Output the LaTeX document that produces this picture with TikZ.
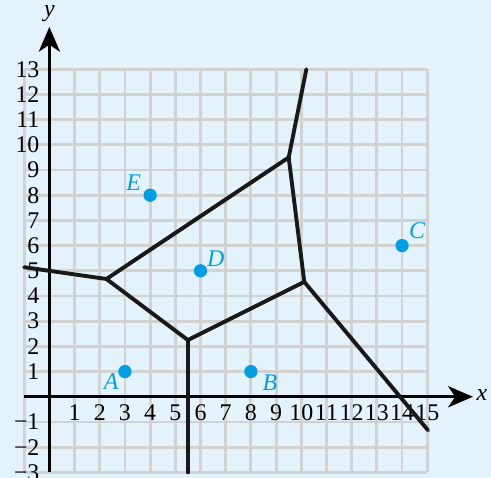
\documentclass[tikz,border=0pt]{standalone}
\usepackage{fontspec}
\setmainfont{Liberation Serif}
\usetikzlibrary{arrows.meta}
\definecolor{bgblue}{HTML}{E3F2FB}
\definecolor{gridgray}{HTML}{D2D2D2}
\definecolor{ptblue}{HTML}{009FE3}
\tikzset{
  gridline/.style={draw=gridgray, line width=1.6pt},
  axisline/.style={draw=black, line width=1.5pt, -{Stealth[length=14pt,width=12pt,inset=4pt]}},
  edgeline/.style={draw=black!90, line width=2.2pt, line cap=round, line join=round},
  dotstyle/.style={circle, fill=ptblue, minimum size=7.5pt, inner sep=0pt},
  ptlabel/.style={text=ptblue, font=\fontsize{13.5}{14}\selectfont\itshape, inner sep=0pt},
  ticklabel/.style={font=\fontsize{13.5}{14}\selectfont, inner sep=0pt},
}
\begin{document}
\begin{tikzpicture}[x=0.5cm,y=0.5cm]
\fill[bgblue] (-1.96,-3.21) rectangle (17.53,15.75);
\useasboundingbox (-1.96,-3.21) rectangle (17.53,15.75);
% grid
\foreach \i in {-1,...,15} \draw[gridline] (\i,-3) -- (\i,13);
\foreach \j in {-3,...,13} \draw[gridline] (-1,\j) -- (15,\j);
% axes
\coordinate (xs) at (-1,0);
\coordinate (xe) at (16.81,0);
\coordinate (ys) at (0,-3);
\coordinate (ye) at (0,14.68);
\draw[axisline] (xs) -- (xe);
\draw[axisline] (ys) -- (ye);
\node[font=\fontsize{13.5}{14}\selectfont\itshape, anchor=west, inner sep=0pt] (xl) at (16.95,0.05) {x};
\node[font=\fontsize{13.5}{14}\selectfont\itshape, inner sep=0pt] (yl) at (0,15.2) {y};
% tick labels
\foreach \i in {1,...,15} \node[ticklabel] (tx\i) at (\i,-0.64) {\i};
\foreach \j in {1,...,13} \node[ticklabel, anchor=east] (ty\j) at (-0.38,\j) {\j};
\foreach \j in {1,2,3} \node[ticklabel, anchor=east] (tn\j) at (-0.38,-\j) {\textminus\j};
% Voronoi vertices
\coordinate (v1) at (2.265,4.676);
\coordinate (v2) at (5.5,2.25);
\coordinate (v3) at (10.118,4.559);
\coordinate (v4) at (9.5,9.5);
\coordinate (r1) at (-1,5.143);
\coordinate (r2) at (10.2,13);
\coordinate (r3) at (5.5,-3);
\coordinate (r4) at (15.03,-1.33);
\draw[edgeline] (r1) -- (v1) -- (v4) -- (r2);
\draw[edgeline] (v1) -- (v2) -- (v3) -- (v4);
\draw[edgeline] (v2) -- (r3);
\draw[edgeline] (v3) -- (r4);
% points
\node[dotstyle] (A) at (3,1) {};
\node[dotstyle] (B) at (8,1) {};
\node[dotstyle] (C) at (14,6) {};
\node[dotstyle] (D) at (6,5) {};
\node[dotstyle] (E) at (4,8) {};
\node[ptlabel] (lA) at (2.45,0.6) {A};
\node[ptlabel] (lB) at (8.75,0.55) {B};
\node[ptlabel] (lC) at (14.6,6.6) {C};
\node[ptlabel] (lD) at (6.6,5.5) {D};
\node[ptlabel] (lE) at (3.35,8.5) {E};
\end{tikzpicture}
\end{document}
